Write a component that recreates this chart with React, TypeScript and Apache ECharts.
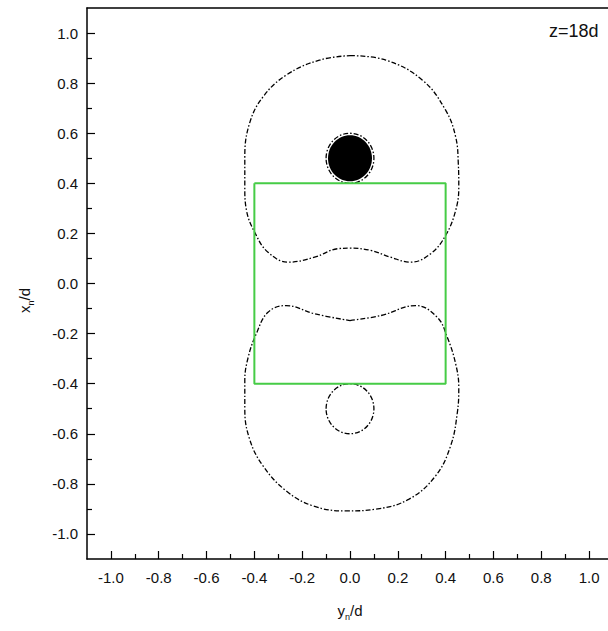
import React, { useEffect, useRef } from "react";
import * as echarts from "echarts";

// Axis ranges and tick values
const xRange = [-1.1, 1.1];
const yRange = [-1.1, 1.1];
const majorTicks = [-1.0, -0.8, -0.6, -0.4, -0.2, 0.0, 0.2, 0.4, 0.6, 0.8, 1.0];
const minorTicks = [-0.9, -0.7, -0.5, -0.3, -0.1, 0.1, 0.3, 0.5, 0.7, 0.9];

// Upper contour lobe (x = y_n/d, y = x_n/d)
const upperLobeX = [0.0, 0.15, 0.303, 0.4, 0.442, 0.453, 0.455, 0.442, 0.4, 0.3375, 0.254, 0.17, 0.0875, 0.0, -0.051, -0.148, -0.26, -0.343, -0.392, -0.433, -0.44, -0.44, -0.42, -0.364, -0.267, -0.128, 0.0];
const upperLobeY = [0.91, 0.892, 0.812, 0.692, 0.585, 0.479, 0.385, 0.292, 0.192, 0.119, 0.085, 0.105, 0.132, 0.141, 0.139, 0.105, 0.085, 0.125, 0.192, 0.292, 0.385, 0.505, 0.64, 0.745, 0.832, 0.892, 0.91];

// Lower contour lobe
const lowerLobeX = [0.0, 0.129, 0.275, 0.365, 0.407, 0.442, 0.455, 0.449, 0.421, 0.358, 0.247, 0.108, -0.017, -0.155, -0.267, -0.364, -0.42, -0.44, -0.44, -0.426, -0.392, -0.343, -0.267, -0.148, 0.0];
const lowerLobeY = [-0.148, -0.128, -0.088, -0.135, -0.215, -0.321, -0.415, -0.515, -0.648, -0.768, -0.861, -0.901, -0.908, -0.888, -0.828, -0.728, -0.621, -0.501, -0.388, -0.295, -0.201, -0.115, -0.088, -0.121, -0.148];

// Small circular contours: [centre y_n/d, centre x_n/d, radius]
const circleContours = [
  [0.0, 0.5, 0.1],
  [0.0, -0.5, 0.1],
];
const filledDisks = [[0.0, 0.5, 0.092]];

// Green square (conductor outline)
const rectX = [-0.4, 0.4, 0.4, -0.4, -0.4];
const rectY = [0.4, 0.4, -0.4, -0.4, 0.4];

const zipXY = (xs: number[], ys: number[]) => xs.map((x, i) => [x, ys[i]]);

const FONT = "Liberation Sans";
const DASH = [5, 2, 1.5, 2];

export default function App() {
  const ref = useRef<HTMLDivElement>(null);

  useEffect(() => {
    if (!ref.current) return;
    const chart = echarts.init(ref.current, null, { renderer: "svg" });

    const ellipseRender = (filled: boolean) => (params: any, api: any) => {
      const c = api.coord([api.value(0), api.value(1)]);
      const s = api.size([api.value(2), api.value(2)]);
      return {
        type: "ellipse",
        shape: { cx: c[0], cy: c[1], rx: s[0], ry: s[1] },
        style: filled
          ? { fill: "#000", stroke: "none" }
          : { fill: "none", stroke: "#000", lineWidth: 1.3, lineDash: DASH },
      };
    };

    const labelStyle = {
      fontFamily: FONT,
      fontSize: 15,
      color: "#111",
      formatter: (v: number) => (Math.abs(v) < 1e-9 ? 0 : v).toFixed(1),
    };

    const nameRich = {
      a: { fontFamily: FONT, fontSize: 15, color: "#111", lineHeight: 22, verticalAlign: "middle" },
      s: { fontFamily: FONT, fontSize: 9, color: "#111", verticalAlign: "bottom" },
    };

    const blankAxis = (pos: string, range: number[]) => ({
      type: "value",
      min: range[0],
      max: range[1],
      position: pos,
      axisLine: { show: false, onZero: false },
      axisTick: { show: true, inside: true, length: 5, customValues: minorTicks, lineStyle: { color: "#000", width: 1.2 } },
      axisLabel: { show: false },
      splitLine: { show: false },
    });

    chart.setOption({
      animation: false,
      backgroundColor: "#fff",
      grid: {
        left: 87,
        top: 8,
        width: 526,
        height: 551,
        show: false,
        containLabel: false,
        outerBoundsMode: "none",
      },
      xAxis: [
        {
          type: "value",
          min: xRange[0],
          max: xRange[1],
          position: "bottom",
          name: "{a|y}{s|n}{a|/d}",
          nameLocation: "middle",
          nameGap: 40,
          nameTextStyle: { rich: nameRich },
          axisLine: { show: true, onZero: false, lineStyle: { color: "#000", width: 1.5 } },
          axisTick: { show: true, inside: true, length: 8, customValues: majorTicks, lineStyle: { color: "#000", width: 1.2 } },
          axisLabel: { ...labelStyle, margin: 11, customValues: majorTicks },
          splitLine: { show: false },
        },
        blankAxis("bottom", xRange),
        {
          type: "value",
          min: xRange[0],
          max: xRange[1],
          position: "top",
          axisLine: { show: true, onZero: false, lineStyle: { color: "#000", width: 1.5 } },
          axisTick: { show: false },
          axisLabel: { show: false },
          splitLine: { show: false },
        },
      ],
      yAxis: [
        {
          type: "value",
          min: yRange[0],
          max: yRange[1],
          position: "left",
          name: "{a|x}{s|n}{a|/d}",
          nameLocation: "middle",
          nameGap: 52,
          nameTextStyle: { padding: [0, 34, 0, 0], rich: nameRich },
          axisLine: { show: true, onZero: false, lineStyle: { color: "#000", width: 1.5 } },
          axisTick: { show: true, inside: true, length: 8, customValues: majorTicks, lineStyle: { color: "#000", width: 1.2 } },
          axisLabel: { ...labelStyle, margin: 9, customValues: majorTicks },
          splitLine: { show: false },
        },
        blankAxis("left", yRange),
      ],
      graphic: [
        {
          type: "text",
          left: 549,
          top: 22,
          style: { text: "z=18d", font: `18px "${FONT}"`, fill: "#111" },
        },
      ],
      series: [
        {
          name: "upper",
          type: "line",
          data: zipXY(upperLobeX, upperLobeY),
          smooth: 0.4,
          showSymbol: false,
          symbol: "none",
          lineStyle: { color: "#000", width: 1.3, type: DASH },
        },
        {
          name: "lower",
          type: "line",
          data: zipXY(lowerLobeX, lowerLobeY),
          smooth: 0.4,
          showSymbol: false,
          symbol: "none",
          lineStyle: { color: "#000", width: 1.3, type: DASH },
        },
        {
          name: "disk",
          type: "custom",
          coordinateSystem: "cartesian2d",
          encode: { x: 0, y: 1 },
          data: filledDisks,
          renderItem: ellipseRender(true),
          clip: false,
        },
        {
          name: "circles",
          type: "custom",
          coordinateSystem: "cartesian2d",
          encode: { x: 0, y: 1 },
          data: circleContours,
          renderItem: ellipseRender(false),
          clip: false,
        },
        {
          name: "square",
          type: "line",
          data: zipXY(rectX, rectY),
          showSymbol: false,
          symbol: "none",
          lineStyle: { color: "#46cc46", width: 2 },
        },
      ],
    });

    return () => chart.dispose();
  }, []);

  return (
    <div
      ref={ref}
      style={{ position: "fixed", left: 0, top: 0, width: 630, height: 631, background: "#fff" }}
    />
  );
}
